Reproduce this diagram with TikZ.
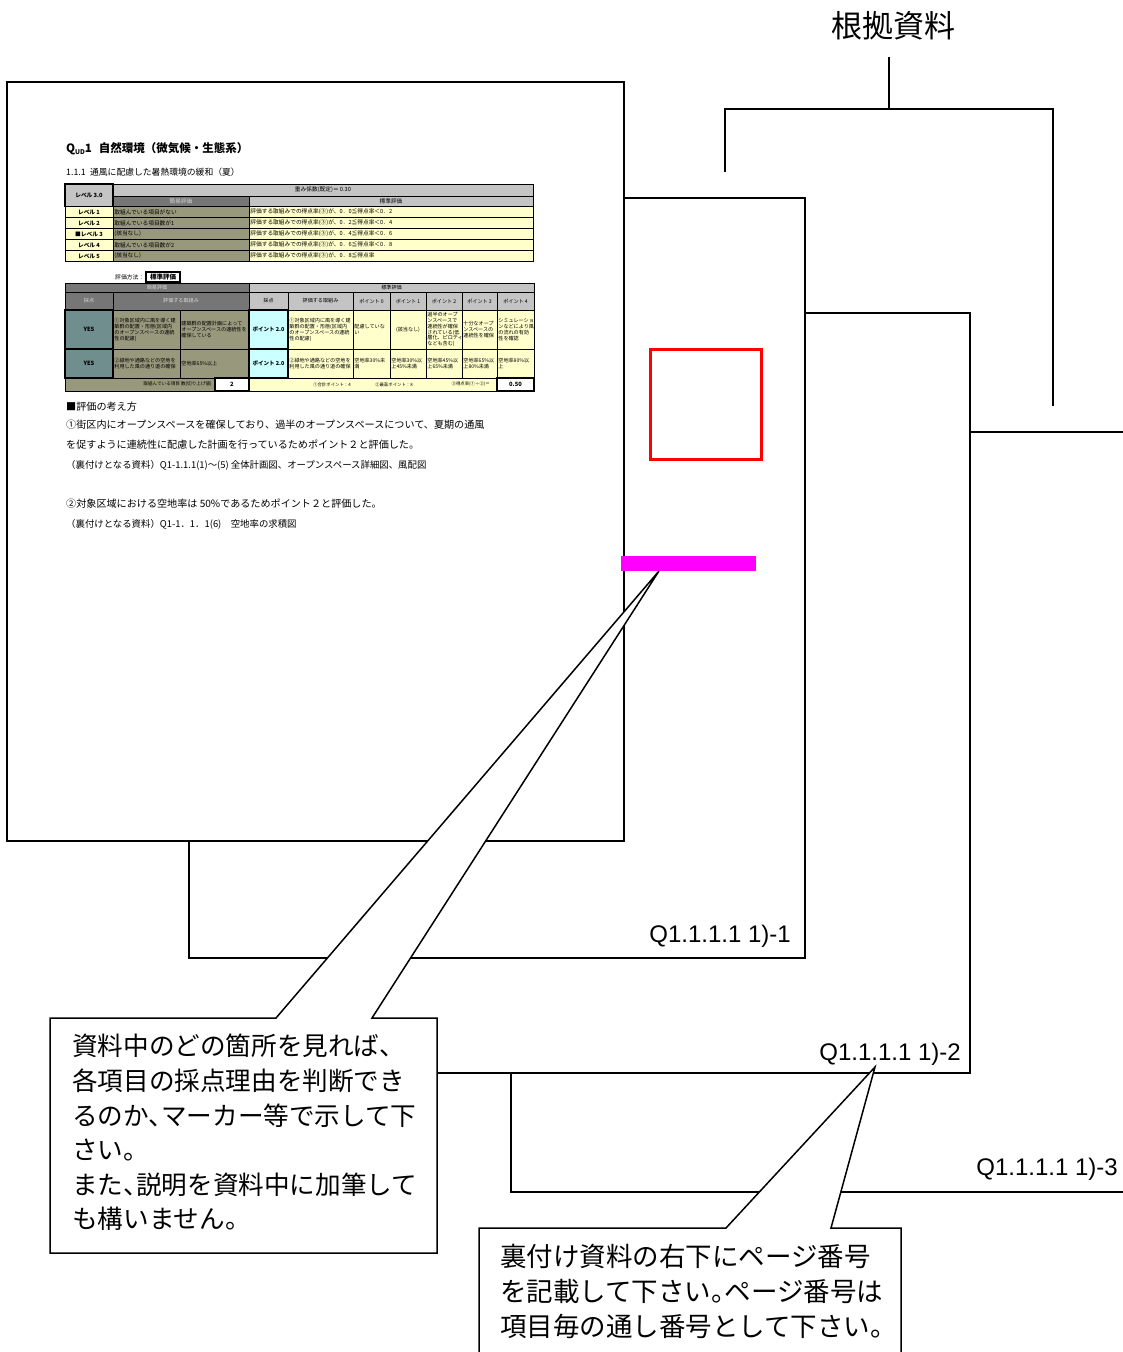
\documentclass[tikz,border=0pt]{standalone}
\usepackage{fontspec}
\setmainfont{Noto Sans CJK JP}
\newfontfamily\arialfont{Liberation Sans}
\newfontfamily\notefont[RawFeature=+halt]{Noto Sans CJK JP}
\usetikzlibrary{calc}

\definecolor{hddark}{RGB}{118,118,118}
\definecolor{hdlight}{RGB}{196,196,196}
\definecolor{hdtext}{RGB}{215,215,215}
\definecolor{olivegray}{RGB}{152,152,125}
\definecolor{paleyellow}{RGB}{255,255,204}
\definecolor{palecyan}{RGB}{204,255,255}
\definecolor{slateteal}{RGB}{112,142,142}
\definecolor{markpink}{RGB}{255,0,255}

\tikzset{
	pageedge/.style={draw=black, fill=white, line width=1.5pt},
	calloutbox/.style={draw=black, fill=white, line width=1.5pt},
	bracket/.style={draw=black, line width=1.5pt},
	gridline/.style={draw=black, line width=0.45pt},
	heavy/.style={line width=1.3pt},
	celltext/.style={inner sep=0pt, font=\fontsize{5.1}{5.9}\selectfont},
	bodytext/.style={inner sep=0pt, anchor=base west, font=\fontsize{10.1}{12}\selectfont},
	pagenum/.style={inner sep=0pt, anchor=base east, font=\arialfont\fontsize{24}{28}\selectfont},
	notetext/.style={inner sep=0pt, anchor=north west, align=left},
}

% セル (中央揃え / 左揃え)
\newcommand{\tcell}[7][]{%
	\path[gridline,#1] (#3,#4) rectangle (#5,#6);
	\node[celltext, align=center] (#2) at ({(#3+#5)/2},{(#4+#6)/2}) {#7};}
\newcommand{\lcell}[7][]{%
	\path[gridline,#1] (#3,#4) rectangle (#5,#6);
	\node[celltext, align=left, anchor=west] (#2) at ({#3+1.2},{(#4+#6)/2}) {#7};}

\begin{document}
\begin{tikzpicture}[x=1pt, y=-1pt]
	\useasboundingbox (0,0) rectangle (1123,1352);
	\clip (0,0) rectangle (1123,1352);
	\fill[white] (0,0) rectangle (1123,1352);
		%ページ (奥から)
	\path[pageedge] (511,432) rectangle (1140,1192); %ページ4
	\path[pageedge] (360,313) rectangle (970,1073); %ページ3
	\path[pageedge] (189,198) rectangle (805,958); %ページ2
	\path[pageedge] (7,82) rectangle (624,841); %評価シート
		%見出し
	\node[inner sep=0pt, anchor=base west, font=\bfseries\fontsize{11.5}{13}\selectfont] (sheetTitle) at (66,152) {Q\raisebox{-0.35ex}{\fontsize{6.5}{7}\selectfont UD}1\hspace{0.6em}自然環境（微気候・生態系）};
	\node[inner sep=0pt, anchor=base west, font=\fontsize{8.8}{10}\selectfont] (sheetSub) at (66,175) {1.1.1\hspace{0.5em}通風に配慮した暑熱環境の緩和（夏）};
		%レベル表
	\begin{scope}[celltext/.style={inner sep=0pt, font=\fontsize{5.7}{6.5}\selectfont}]
	\tcell[fill=hdlight]{wHead}{113}{184}{533}{196}{重み係数(既定)＝ 0.30}
	\tcell[fill=hddark]{kHead}{113}{196}{249}{206.5}{\textcolor{hdtext}{簡易評価}}
	\tcell[fill=hdlight]{sHead}{249}{196}{533}{206.5}{標準評価}
	\tcell[fill=paleyellow]{lv1}{65}{206.5}{113}{217.5}{\bfseries レベル 1}
	\lcell[fill=olivegray]{ka1}{113}{206.5}{249}{217.5}{取組んでいる項目がない}
	\lcell[fill=paleyellow]{hy1}{249}{206.5}{533}{217.5}{評価する取組みでの得点率(③)が、0．0≦得点率＜0．2}
	\tcell[fill=paleyellow]{lv2}{65}{217.5}{113}{228.5}{\bfseries レベル 2}
	\lcell[fill=olivegray]{ka2}{113}{217.5}{249}{228.5}{取組んでいる項目数が1}
	\lcell[fill=paleyellow]{hy2}{249}{217.5}{533}{228.5}{評価する取組みでの得点率(③)が、0．2≦得点率＜0．4}
	\tcell[fill=paleyellow]{lv3}{65}{228.5}{113}{239.5}{\bfseries ■レベル 3}
	\lcell[fill=olivegray]{ka3}{113}{228.5}{249}{239.5}{(該当なし)}
	\lcell[fill=paleyellow]{hy3}{249}{228.5}{533}{239.5}{評価する取組みでの得点率(③)が、0．4≦得点率＜0．6}
	\tcell[fill=paleyellow]{lv4}{65}{239.5}{113}{250.5}{\bfseries レベル 4}
	\lcell[fill=olivegray]{ka4}{113}{239.5}{249}{250.5}{取組んでいる項目数が2}
	\lcell[fill=paleyellow]{hy4}{249}{239.5}{533}{250.5}{評価する取組みでの得点率(③)が、0．6≦得点率＜0．8}
	\tcell[fill=paleyellow]{lv5}{65}{250.5}{113}{261.5}{\bfseries レベル 5}
	\lcell[fill=olivegray]{ka5}{113}{250.5}{249}{261.5}{(該当なし)}
	\lcell[fill=paleyellow]{hy5}{249}{250.5}{533}{261.5}{評価する取組みでの得点率(③)が、0．8≦得点率}
	\tcell[fill=hdlight, heavy]{lvHead}{65}{184}{113}{206.5}{\bfseries レベル 3.0}
	\end{scope}
		%評価方法
	\node[celltext, anchor=west, font=\fontsize{5.8}{6}\selectfont] (evalLbl) at (115,277.5) {評価方法：};
	\tcell[fill=white, heavy]{evalBox}{146}{272}{180}{282}{\bfseries\fontsize{6.5}{7}\selectfont 標準評価}
		%採点表
	\tcell[fill=hddark]{bKan}{65}{283}{249}{292}{\textcolor{hdtext}{簡易評価}}
	\tcell[fill=hdlight]{bHyo}{249}{283}{534}{292}{標準評価}
	\tcell[fill=hddark]{hSaiK}{65}{292}{113}{310}{\textcolor{hdtext}{採点}}
	\tcell[fill=hddark]{hTorK}{113}{292}{249}{310}{\textcolor{hdtext}{評価する取組み}}
	\tcell[fill=hdlight]{hSaiS}{249}{292}{288}{310}{採点}
	\tcell[fill=hdlight]{hTorS}{288}{292}{353}{310}{評価する取組み}
	\tcell[fill=hdlight]{hP0}{353}{292}{390}{310}{ポイント 0}
	\tcell[fill=hdlight]{hP1}{390}{292}{426}{310}{ポイント 1}
	\tcell[fill=hdlight]{hP2}{426}{292}{462}{310}{ポイント 2}
	\tcell[fill=hdlight]{hP3}{462}{292}{497}{310}{ポイント 3}
	\tcell[fill=hdlight]{hP4}{497}{292}{534}{310}{ポイント 4}
	\lcell[fill=olivegray]{kaA}{113}{310}{180}{349}{①対象区域内に風を導く建\\築群の配置・形態(区域内\\のオープンスペースの連続\\性の配慮)}
	\lcell[fill=olivegray]{kaA2}{180}{310}{249}{349}{建築群の配置計画によって\\オープンスペースの連続性を\\確保している}
	\lcell[fill=paleyellow]{hyA}{288}{310}{353}{349}{①対象区域内に風を導く建\\築群の配置・形態(区域内\\のオープンスペースの連続\\性の配慮)}
	\lcell[fill=paleyellow]{p0A}{353}{310}{390}{349}{配慮していな\\い}
	\tcell[fill=paleyellow]{p1A}{390}{310}{426}{349}{(該当なし)}
	\lcell[fill=paleyellow]{p2A}{426}{310}{462}{349}{過半のオープ\\ンスペースで\\連続性が確保\\されている(低\\層化、ピロティ\\なども含む)}
	\lcell[fill=paleyellow]{p3A}{462}{310}{497}{349}{十分なオープ\\ンスペースの\\連続性を確保}
	\lcell[fill=paleyellow]{p4A}{497}{310}{534}{349}{シミュレーショ\\ンなどにより風\\の流れの有効\\性を確認}
	\lcell[fill=olivegray]{kaB}{113}{349}{180}{378}{②緑地や通路などの空地を\\利用した風の通り道の確保}
	\lcell[fill=olivegray]{kaB2}{180}{349}{249}{378}{空地率65\%以上}
	\lcell[fill=paleyellow]{hyB}{288}{349}{353}{378}{②緑地や通路などの空地を\\利用した風の通り道の確保}
	\lcell[fill=paleyellow]{p0B}{353}{349}{390}{378}{空地率30\%未\\満}
	\lcell[fill=paleyellow]{p1B}{390}{349}{426}{378}{空地率30\%以\\上45\%未満}
	\lcell[fill=paleyellow]{p2B}{426}{349}{462}{378}{空地率45\%以\\上65\%未満}
	\lcell[fill=paleyellow]{p3B}{462}{349}{497}{378}{空地率65\%以\\上80\%未満}
	\lcell[fill=paleyellow]{p4B}{497}{349}{534}{378}{空地率80\%以\\上}
	\path[gridline, fill=olivegray] (65,378) rectangle (215,391);
	\node[celltext, anchor=east, font=\fontsize{4.6}{5}\selectfont] (cntLbl) at (212,384.5) {取組んでいる項目 数(切り上げ値)};
	\path[gridline, fill=paleyellow] (249,378) rectangle (497,391);
	\node[celltext, font=\fontsize{4.4}{5}\selectfont] (sumPt) at (332,384.5) {①合計ポイント：4};
	\node[celltext, font=\fontsize{4.4}{5}\selectfont] (maxPt) at (394,384.5) {②最高ポイント：8};
	\node[celltext, anchor=east, font=\fontsize{4.4}{5}\selectfont] (ratePt) at (490,384.5) {③得点率(①÷②)＝};
	\tcell[fill=slateteal, heavy]{yesA}{65}{310}{113}{349}{\bfseries\fontsize{5.8}{6}\selectfont YES}
	\tcell[fill=slateteal, heavy]{yesB}{65}{349}{113}{378}{\bfseries\fontsize{5.8}{6}\selectfont YES}
	\tcell[fill=palecyan, heavy]{ptA}{249}{310}{288}{349}{\bfseries\fontsize{5.5}{6}\selectfont ポイント 2.0}
	\tcell[fill=palecyan, heavy]{ptB}{249}{349}{288}{378}{\bfseries\fontsize{5.5}{6}\selectfont ポイント 2.0}
	\tcell[fill=white, heavy]{cntVal}{215}{378}{249}{391}{\bfseries\fontsize{5.8}{6}\selectfont 2}
	\tcell[fill=white, heavy]{rateVal}{497}{378}{534}{391}{\bfseries\fontsize{5.8}{6}\selectfont 0.50}
		%評価の考え方
	\node[bodytext] (thinkHead) at (66,410) {■評価の考え方};
	\node[bodytext] (thinkA1) at (66,428) {①街区内にオープンスペースを確保しており、過半のオープンスペースについて、夏期の通風};
	\node[bodytext] (thinkA2) at (66,448) {を促すように連続性に配慮した計画を行っているためポイント２と評価した。};
	\node[bodytext, font=\fontsize{9.4}{11}\selectfont] (refA) at (66,468) {（裏付けとなる資料）Q1-1.1.1(1)～(5) 全体計画図、オープンスペース詳細図、風配図};
	\node[bodytext] (thinkB1) at (66,507) {②対象区域における空地率は 50\%であるためポイント２と評価した。};
	\node[bodytext, font=\fontsize{9.4}{11}\selectfont] (refB) at (66,527) {（裏付けとなる資料）Q1-1．1．1(6)　空地率の求積図};
		%マーカー
	\draw[red, line width=3pt] (650,349) rectangle (761,459);
	\fill[markpink] (621,556) rectangle (756,571);
		%ページ番号
	\node[pagenum] (pgOne) at (791,942) {Q1.1.1.1 1)-1};
	\node[pagenum] (pgTwo) at (961,1060) {Q1.1.1.1 1)-2};
	\node[pagenum] (pgThree) at (1118,1175) {Q1.1.1.1 1)-3};
		%根拠資料
	\node[inner sep=0pt, font=\fontsize{31}{34}\selectfont] (srcTitle) at (893,26) {根拠資料};
	\coordinate (brStemTop) at (889,57);
	\coordinate (brStem) at (889,109);
	\coordinate (brLeft) at (725,172);
	\coordinate (brRight) at (1053,406);
	\draw[bracket] (brLeft) -- (brLeft |- brStem) -- (brRight |- brStem) -- (brRight);
	\draw[bracket] (brStem) -- (brStemTop);
		%吹き出し1
	\coordinate (nA1) at (50,1018);
	\coordinate (nA2) at (437,1253);
	\coordinate (nAl) at (276,1018);
	\coordinate (nAr) at (372,1018);
	\coordinate (tipA) at (659,571);
	\path[calloutbox] (nA1) -- (nAl) -- (tipA) -- (nAr) -- (nA1 -| nA2) -- (nA2) -- (nA1 |- nA2) -- cycle;
	\node[notetext, font=\notefont\fontsize{25.6}{34.6}\selectfont] (noteMark) at (72,1034) {資料中のどの箇所を見れば、\\各項目の採点理由を判断でき\\るのか、マーカー等で示して下\\さい。\\また、説明を資料中に加筆して\\も構いません。};
		%吹き出し2
	\coordinate (nB1) at (479,1228);
	\coordinate (nB2) at (901,1385);
	\coordinate (nBl) at (726,1228);
	\coordinate (nBr) at (831,1228);
	\coordinate (tipB) at (875,1067);
	\path[calloutbox] (nB1) -- (nBl) -- (tipB) -- (nBr) -- (nB1 -| nB2) -- (nB2) -- (nB1 |- nB2) -- cycle;
	\node[notetext, font=\notefont\fontsize{26.5}{35}\selectfont] (notePage) at (500,1244) {裏付け資料の右下にページ番号\\を記載して下さい。ページ番号は\\項目毎の通し番号として下さい。};
\end{tikzpicture}
\end{document}
